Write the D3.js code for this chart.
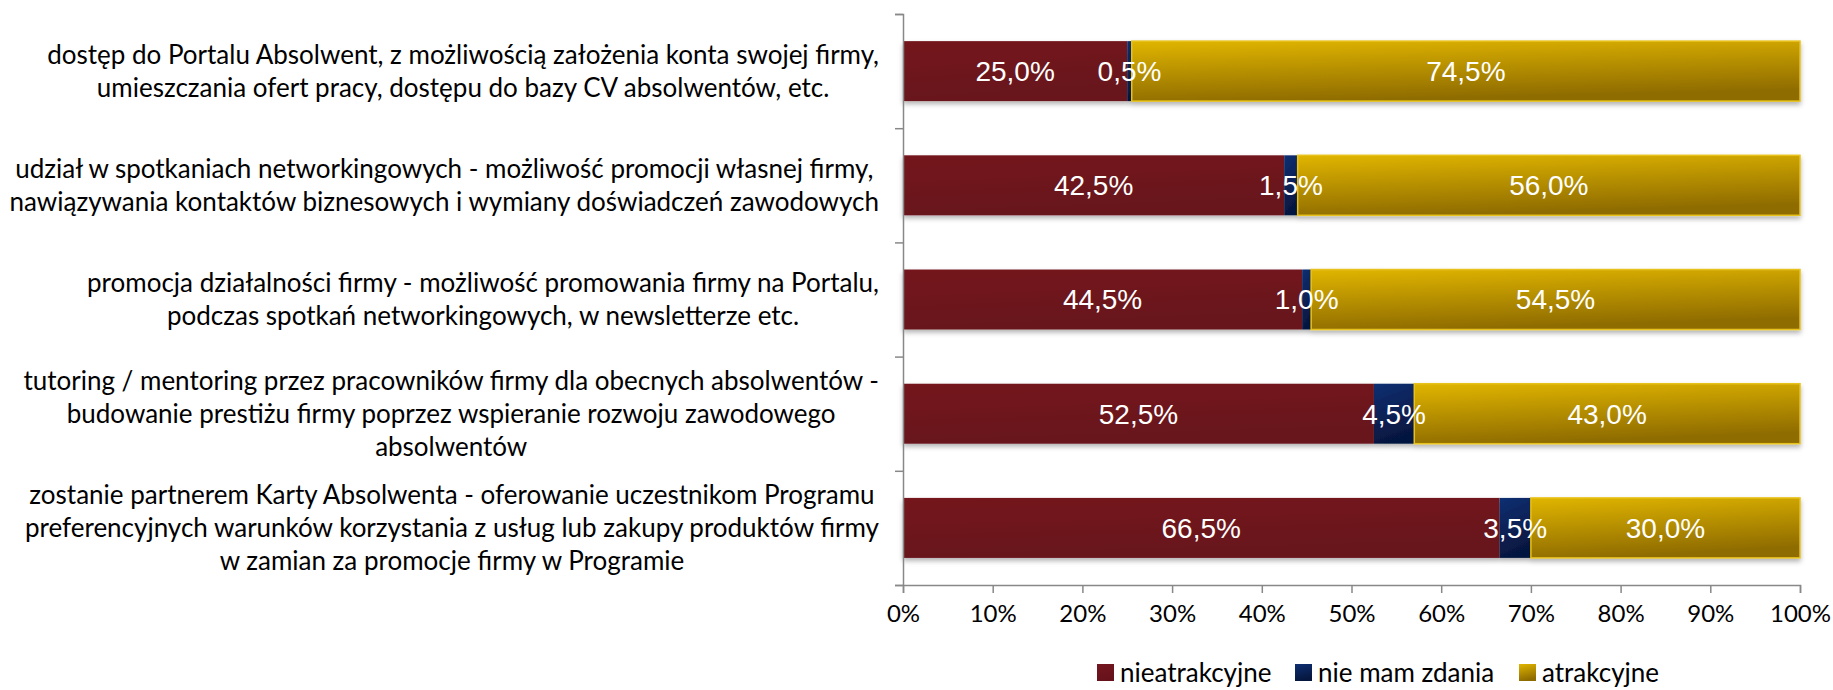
<!DOCTYPE html>
<html>
<head>
<meta charset="utf-8">
<script src="https://cdn.jsdelivr.net/npm/d3@7"></script>
<style>
  body { margin: 0; background: #fff; }
  svg text { font-family: "Lato", "Open Sans", sans-serif; }
</style>
</head>
<body>
<svg id="chart" width="1833" height="690"></svg>
<script>
// data
var categories = [
  ["dostęp do Portalu Absolwent, z możliwością założenia konta swojej firmy,",
   "umieszczania ofert pracy, dostępu do bazy CV absolwentów, etc."],
  ["udział w spotkaniach networkingowych - możliwość promocji własnej firmy,",
   "nawiązywania kontaktów biznesowych i wymiany doświadczeń zawodowych"],
  ["promocja działalności firmy - możliwość promowania firmy na Portalu,",
   "podczas spotkań networkingowych, w newsletterze etc."],
  ["tutoring / mentoring przez pracowników firmy dla obecnych absolwentów -",
   "budowanie prestiżu firmy poprzez wspieranie rozwoju zawodowego",
   "absolwentów"],
  ["zostanie partnerem Karty Absolwenta - oferowanie uczestnikom Programu",
   "preferencyjnych warunków korzystania z usług lub zakupy produktów firmy",
   "w zamian za promocje firmy w Programie"]
];
var seriesNames = ["nieatrakcyjne", "nie mam zdania", "atrakcyjne"];
var nieatrakcyjne = [25.0, 42.5, 44.5, 52.5, 66.5];
var nieMamZdania = [0.5, 1.5, 1.0, 4.5, 3.5];
var atrakcyjne = [74.5, 56.0, 54.5, 43.0, 30.0];
var xTicks = [0, 10, 20, 30, 40, 50, 60, 70, 80, 90, 100];

var svg = d3.select("svg#chart");

var x0 = 903, x1 = 1800, yTop = 14, yBot = 585;

var x = d3.scaleLinear().domain([0, 100]).range([x0, x1]);
var y = d3.scaleBand()
          .domain(d3.range(categories.length))
          .range([yTop, yBot])
          .paddingInner(0.475)
          .paddingOuter(0.2375);

// gradients
var defs = svg.append("defs");
var grads = [
  {id: "g0", c1: "#74161f", c2: "#67121b"},
  {id: "g1", c1: "#0e2f72", c2: "#06173f"},
  {id: "g2", c1: "#e0b500", c2: "#8f6c00"}
];
grads.forEach(function(g) {
  var lg = defs.append("linearGradient")
               .attr("id", g.id)
               .attr("x1", 0).attr("y1", 0)
               .attr("x2", 0.25).attr("y2", 1);
  lg.append("stop").attr("offset", "0%").attr("stop-color", g.c1);
  lg.append("stop").attr("offset", "100%").attr("stop-color", g.c2);
});
var shadow = defs.append("filter").attr("id", "shadow")
                 .attr("x", "-5%").attr("y", "-20%")
                 .attr("width", "110%").attr("height", "150%");
shadow.append("feDropShadow")
      .attr("dx", 0).attr("dy", 3).attr("stdDeviation", 2.5)
      .attr("flood-color", "#000").attr("flood-opacity", 0.3);

var strokes = ["none", "none", "#e8c21a"];

// stacked data
var rows = categories.map(function(c, i) {
  return {i: i, v: [nieatrakcyjne[i], nieMamZdania[i], atrakcyjne[i]]};
});
var stack = d3.stack().keys([0, 1, 2]).value(function(d, k) { return d.v[k]; });
var layers = stack(rows);

// bars
var barG = svg.append("g").attr("filter", "url(#shadow)");
layers.forEach(function(layer, k) {
  barG.selectAll(".bar" + k)
      .data(layer)
      .enter().append("rect")
      .attr("x", function(d) { return x(d[0]); })
      .attr("y", function(d) { return y(d.data.i); })
      .attr("width", function(d) { return x(d[1]) - x(d[0]); })
      .attr("height", y.bandwidth())
      .attr("fill", "url(#g" + k + ")")
      .attr("stroke", strokes[k])
      .attr("stroke-width", 1.5);
});

// data labels
layers.forEach(function(layer, k) {
  svg.selectAll(".lab" + k)
     .data(layer)
     .enter().append("text")
     .attr("x", function(d) { return (x(d[0]) + x(d[1])) / 2; })
     .attr("y", function(d) { return y(d.data.i) + y.bandwidth() / 2; })
     .attr("dy", "0.35em")
     .attr("text-anchor", "middle")
     .style("font-family", "'Liberation Sans', Arial, sans-serif")
     .style("font-size", "28px")
     .attr("fill", "#fff")
     .text(function(d) { return d3.format(".1f")(d[1] - d[0]).replace(".", ",") + "%"; });
});

// x axis
var xAxis = svg.append("g")
               .attr("transform", "translate(0," + yBot + ")")
               .call(d3.axisBottom(x).tickValues(xTicks).tickSize(8).tickPadding(12)
                       .tickFormat(function(d) { return d + "%"; }));
xAxis.select(".domain").attr("stroke", "#888").attr("stroke-width", 1.5);
xAxis.selectAll(".tick line").attr("stroke", "#888").attr("stroke-width", 1.5);
xAxis.selectAll(".tick text").attr("fill", "#000").style("font-size", "24px")
     .style("font-family", "Lato, sans-serif");

// y axis (ticks between categories)
var yLin = d3.scaleLinear().domain([0, categories.length]).range([yTop, yBot]);
var yAxis = svg.append("g")
               .attr("transform", "translate(" + x0 + ",0)")
               .call(d3.axisLeft(yLin).tickValues(d3.range(categories.length + 1))
                       .tickSize(8).tickFormat(""));
yAxis.select(".domain").attr("stroke", "#888").attr("stroke-width", 1.5);
yAxis.selectAll(".tick line").attr("stroke", "#888").attr("stroke-width", 1.5);

// category labels: centered block, right edge near axis
var labelRight = 879, lineH = 33;
categories.forEach(function(lines, i) {
  var g = svg.append("g");
  var cy = y(i) + y.bandwidth() / 2;
  var texts = lines.map(function(l, j) {
    return g.append("text")
            .attr("y", cy + (j - (lines.length - 1) / 2) * lineH)
            .attr("dy", "0.35em")
            .attr("text-anchor", "middle")
            .style("font-size", "26px")
            .attr("fill", "#000")
            .text(l);
  });
  var w = d3.max(texts, function(t) { return t.node().getComputedTextLength(); });
  texts.forEach(function(t) { t.attr("x", labelRight - w / 2); });
});

// legend
var legendX = [1097, 1295, 1519];
var legend = svg.append("g");
seriesNames.forEach(function(name, k) {
  legend.append("rect")
        .attr("x", legendX[k]).attr("y", 664)
        .attr("width", 17).attr("height", 17)
        .attr("fill", "url(#g" + k + ")");
  legend.append("text")
        .attr("x", legendX[k] + 23).attr("y", 673)
        .attr("dy", "0.35em")
        .style("font-size", "26px")
        .attr("fill", "#000")
        .text(name);
});
</script>
</body>
</html>
